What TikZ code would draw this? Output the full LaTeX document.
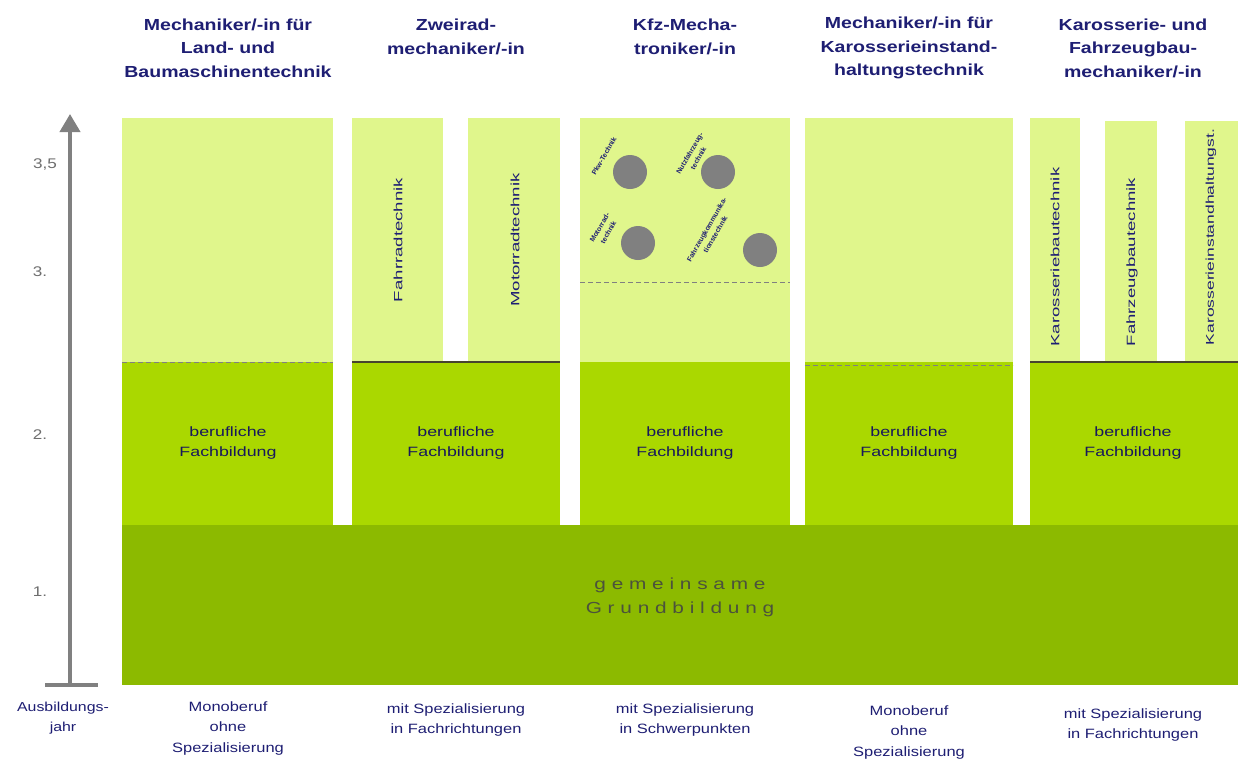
\documentclass[tikz,border=0pt]{standalone}
\usepackage{fontspec}
\setmainfont{Liberation Sans}
\newfontfamily\headfont[FakeStretch=1.22]{Liberation Sans}
\newfontfamily\footfont[FakeStretch=1.22]{Liberation Sans}
\newfontfamily\fachfont[FakeStretch=1.32]{Liberation Sans}
\newfontfamily\barfont[FakeStretch=1.55]{Liberation Sans}
\newfontfamily\grundfont[FakeStretch=1.3]{Liberation Sans}
\usetikzlibrary{arrows.meta}
\definecolor{lightg}{RGB}{224,246,140}
\definecolor{midg}{RGB}{170,216,0}
\definecolor{darkg}{RGB}{140,186,0}
\definecolor{navy}{RGB}{30,30,115}
\definecolor{axisgray}{RGB}{128,128,128}
\definecolor{labgray}{RGB}{110,110,110}
\definecolor{gruntext}{RGB}{75,82,60}
\begin{document}
\begin{tikzpicture}[x=1pt,y=-1pt,
  head/.style={font=\headfont\fontsize{16}{23.5}\selectfont\bfseries, text=navy, align=center, inner sep=0pt},
  foot/.style={font=\footfont\fontsize{13.5}{20.5}\selectfont, text=navy, align=center, inner sep=0pt},
  yearlab/.style={font=\footfont\fontsize{14}{15}\selectfont, text=labgray, inner sep=0pt},
  barlab/.style={font=\barfont\fontsize{12}{13}\selectfont, text=navy, rotate=90, inner sep=0pt},
  fachlab/.style={font=\fachfont\fontsize{13.5}{20}\selectfont, text=navy!80!black, align=center, inner sep=0pt},
  circlab/.style={font=\fontsize{7}{10}\selectfont\bfseries, text=navy, rotate=60, align=center, inner sep=0pt},
  schwer/.style={circle, fill=axisgray, minimum size=34pt, inner sep=0pt},
  dash sep/.style={draw=axisgray, line width=0.9pt, dash pattern=on 5pt off 3pt},
  solid sep/.style={draw=black!65!olive, line width=1.2pt}]
\useasboundingbox (0,0) rectangle (1245,769);
\fill[white] (0,0) rectangle (1245,769);

% top light bars
\fill[lightg] (122,118) rectangle (333,362);
\fill[lightg] (352,118) rectangle (443,362);
\fill[lightg] (468,118) rectangle (560,362);
\fill[lightg] (580,118) rectangle (790,362);
\fill[lightg] (805,118) rectangle (1013,362);
\fill[lightg] (1030,118) rectangle (1080,362);
\fill[lightg] (1105,121) rectangle (1157,362);
\fill[lightg] (1185,121) rectangle (1238,362);

% middle bars
\fill[midg] (122,362) rectangle (333,525);
\fill[midg] (352,362) rectangle (560,525);
\fill[midg] (580,362) rectangle (790,525);
\fill[midg] (805,362) rectangle (1013,525);
\fill[midg] (1030,362) rectangle (1238,525);

% bottom band
\fill[darkg] (122,525) rectangle (1238,685);

% separators
\draw[dash sep] (122,362) -- (333,362);
\draw[solid sep] (352,362) -- (560,362);
\draw[dash sep] (580,282) -- (790,282);
\draw[dash sep] (805,365) -- (1013,365);
\draw[solid sep] (1030,362) -- (1238,362);

% axis
\coordinate (axbot) at (70,685);
\coordinate (axtop) at (70,114);
\coordinate (barl) at (45,685);
\coordinate (barr) at (98,685);
\draw[axisgray, line width=4pt, -{Triangle[width=20pt,length=18pt]}] (axbot) -- (axtop);
\draw[axisgray, line width=3.5pt] (barl) -- (barr);

\node[yearlab] (y35) at (45,165) {3,5};
\node[yearlab] (y3) at (40,272) {3.};
\node[yearlab] (y2) at (40,435) {2.};
\node[yearlab] (y1) at (40,592) {1.};
\node[foot, font=\footfont\fontsize{13}{20}\selectfont] (ajahr) at (63,718) {Ausbildungs-\\jahr};

% headers
\node[head] (h1) at (228,48) {Mechaniker/-in für\\Land- und\\Baumaschinentechnik};
\node[head] (h2) at (456,37) {Zweirad-\\mechaniker/-in};
\node[head] (h3) at (685,37) {Kfz-Mecha-\\troniker/-in};
\node[head] (h4) at (909,48) {Mechaniker/-in für\\Karosserieinstand-\\haltungstechnik};
\node[head] (h5) at (1133,48) {Karosserie- und\\Fahrzeugbau-\\mechaniker/-in};

% vertical bar labels
\node[barlab] (fr) at (398,240) {Fahrradtechnik};
\node[barlab] (mr) at (515,240) {Motorradtechnik};
\node[barlab] (kb) at (1055,257) {Karosseriebautechnik};
\node[barlab] (fb) at (1132,262) {Fahrzeugbautechnik};
\node[barlab, font=\barfont\fontsize{11.3}{13}\selectfont] (ki) at (1211,237) {Karosserieinstandhaltungst.};

% Kfz Schwerpunkte
\node[schwer] (c1) at (630,172) {};
\node[schwer] (c2) at (718,172) {};
\node[schwer] (c3) at (638,243) {};
\node[schwer] (c4) at (760,250) {};
\node[circlab] (l1) at (604,156) {Pkw-Technik};
\node[circlab] (l2) at (694,156) {Nutzfahrzeug-\\technik};
\node[circlab] (l3) at (604,230) {Motorrad-\\technik};
\node[circlab] (l4) at (711,232) {Fahrzeugkommunika-\\tionstechnik};

% Fachbildung
\node[fachlab] (f1) at (228,443) {berufliche\\Fachbildung};
\node[fachlab] (f2) at (456,443) {berufliche\\Fachbildung};
\node[fachlab] (f3) at (685,443) {berufliche\\Fachbildung};
\node[fachlab] (f4) at (909,443) {berufliche\\Fachbildung};
\node[fachlab] (f5) at (1133,443) {berufliche\\Fachbildung};

% Grundbildung
\node[font=\grundfont\fontsize{16}{24}\selectfont, text=gruntext, align=center, inner sep=0pt] (gg) at (680,597) {g e m e i n s a m e\\G r u n d b i l d u n g};

% footers
\node[foot] (b1) at (228,728) {Monoberuf\\ohne\\Spezialisierung};
\node[foot] (b2) at (456,720) {mit Spezialisierung\\in Fachrichtungen};
\node[foot] (b3) at (685,720) {mit Spezialisierung\\in Schwerpunkten};
\node[foot] (b4) at (909,732) {Monoberuf\\ohne\\Spezialisierung};
\node[foot] (b5) at (1133,725) {mit Spezialisierung\\in Fachrichtungen};
\end{tikzpicture}
\end{document}
